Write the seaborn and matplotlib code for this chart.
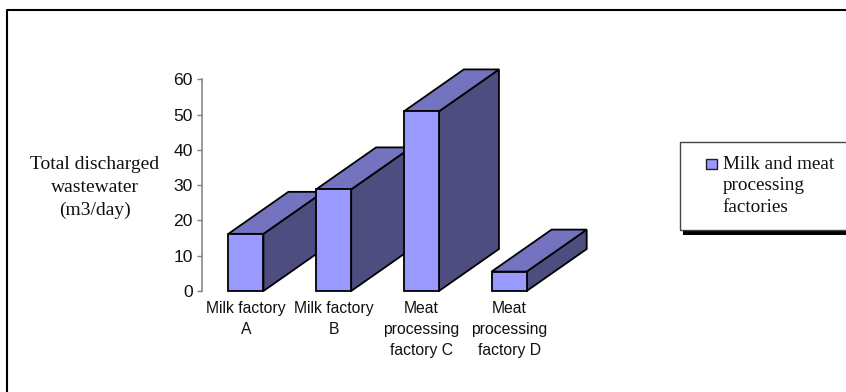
import matplotlib
matplotlib.use("Agg")
import matplotlib.pyplot as plt
from matplotlib.patches import Polygon, Rectangle
import pandas as pd
import seaborn as sns

factories = ["Milk factory\nA", "Milk factory\nB",
             "Meat\nprocessing\nfactory C", "Meat\nprocessing\nfactory D"]
wastewater = [16.2, 28.8, 50.9, 5.5]
series_name = "Milk and meat\nprocessing\nfactories"
y_ticks = [0, 10, 20, 30, 40, 50, 60]

FRONT = "#9999ff"
TOP = "#7373bf"
SIDE = "#4d4d7f"
SANS = ["Liberation Sans", "DejaVu Sans"]
SERIF = ["Liberation Serif", "DejaVu Serif"]

W, H = 846, 392
sns.set_theme(style="white")
fig = plt.figure(figsize=(W / 100, H / 100), dpi=100, facecolor="white")
ax = fig.add_axes([202 / W, 1 - 291 / H, 351 / W, 211.7 / H])

df = pd.DataFrame({"factory": factories, "wastewater": wastewater})
sns.barplot(data=df, x="factory", y="wastewater", color=FRONT, saturation=1,
            width=0.4, edgecolor="black", linewidth=1.3, ax=ax)

ax.set_xlim(-0.5, 3.5)
ax.set_ylim(0, 60)
ax.set_xlabel("")
ax.set_ylabel("")
ax.set_yticks(y_ticks)
ax.patch.set_alpha(0)

# Oblique depth of the extruded columns, in data units
depth_x, depth_y = 0.684, 11.9
for i, bar in enumerate(ax.patches):
    x0, x1 = bar.get_x(), bar.get_x() + bar.get_width()
    h = bar.get_height()
    base = 3 + 3 * i
    side = [(x1, 0), (x1 + depth_x, depth_y), (x1 + depth_x, h + depth_y), (x1, h)]
    top = [(x0, h), (x0 + depth_x, h + depth_y), (x1 + depth_x, h + depth_y), (x1, h)]
    ax.add_patch(Polygon(side, closed=True, fc=SIDE, ec="black", lw=1.3,
                         clip_on=False, zorder=base))
    ax.add_patch(Polygon(top, closed=True, fc=TOP, ec="black", lw=1.3,
                         clip_on=False, zorder=base + 1))
    bar.set_clip_on(False)
    bar.set_zorder(base + 2)

for name in ("top", "right", "bottom"):
    ax.spines[name].set_visible(False)
ax.spines["left"].set_color("#7f7f7f")
ax.spines["left"].set_linewidth(1.1)
ax.tick_params(axis="y", left=True, length=3.6, width=1, color="#7f7f7f",
               pad=3, labelsize=12.6, labelcolor="#111111")
ax.tick_params(axis="x", bottom=False, length=0, pad=7, labelsize=11.3, labelcolor="#111111")
for label in ax.get_yticklabels():
    label.set_family(SANS)
for label in ax.get_xticklabels():
    label.set_family(SANS)
    label.set_linespacing(1.53)

# Outer chart frame: only the top and left edges fall inside the canvas
def px_x(v):
    return v / W

def px_y(v):
    return 1 - v / H

frame_x = [px_x(846), px_x(6.5), px_x(6.5)]
frame_y = [px_y(9.5), px_y(9.5), px_y(392)]
fig.add_artist(plt.Line2D(frame_x, frame_y, color="black", lw=1.5))

fig.text(px_x(94.5), px_y(187.5), "Total discharged\nwastewater\n(m3/day)",
         family=SERIF, fontsize=14, color="#111111", ha="center", va="center",
         linespacing=1.48)

# Legend panel with a drop shadow along its lower edge
fig.add_artist(Rectangle((px_x(683), px_y(235)), 170 / W, 6 / H,
                         transform=fig.transFigure, fc="black", ec="none"))
fig.add_artist(Rectangle((px_x(680), px_y(229.5)), 170 / W, 87.5 / H,
                         transform=fig.transFigure, fc="white", ec="#444444", lw=1))
fig.add_artist(Rectangle((px_x(705.5), px_y(168.5)), 11 / W, 9.5 / H,
                         transform=fig.transFigure, fc=FRONT, ec="#222222", lw=1))
fig.text(px_x(722.5), px_y(186), series_name, family=SERIF, fontsize=13.8,
         color="#111111", ha="left", va="center", linespacing=1.38)

fig.savefig("out.png", dpi=100, facecolor="white")
